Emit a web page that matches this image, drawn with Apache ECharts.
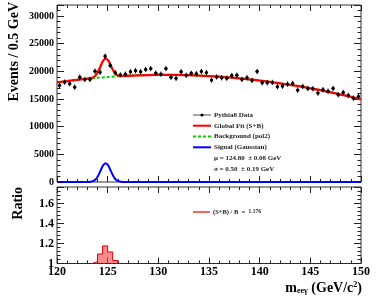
<!DOCTYPE html>
<html><head><meta charset="utf-8">
<script src="https://cdn.jsdelivr.net/npm/echarts@6/dist/echarts.min.js"></script>
<style>html,body{margin:0;padding:0;background:#fff}#c{width:381px;height:298px}</style>
</head><body><div id="c"></div>
<script>
// ---- data ----
const binCenters = [120.25,120.75,121.25,121.75,122.25,122.75,123.25,123.75,124.25,124.75,
  125.25,125.75,126.25,126.75,127.25,127.75,128.25,128.75,129.25,129.75,
  130.25,130.75,131.25,131.75,132.25,132.75,133.25,133.75,134.25,134.75,
  135.25,135.75,136.25,136.75,137.25,137.75,138.25,138.75,139.25,139.75,
  140.25,140.75,141.25,141.75,142.25,142.75,143.25,143.75,144.25,144.75,
  145.25,145.75,146.25,146.75,147.25,147.75,148.25,148.75,149.25,149.75];
const dataValues = [17450,18050,17760,17150,18950,18540,18540,20040,19850,22740,
  21060,19750,19350,19500,19920,20100,19920,20340,20500,19680,
  19500,20500,18950,18740,19920,19300,19650,19570,19980,19780,
  18420,18990,18840,18770,19260,19310,18540,18840,18360,19980,
  17940,17940,18000,17220,17330,17690,17820,16610,17270,16910,
  16860,16070,16680,16430,16910,15780,16190,15650,15160,15470];
const dataError = 480;

const bgX = [120,121,122,123,124,125,126,127,128,129,130,131,132,133,134,135,
  136,137,138,139,140,141,142,143,144,145,146,147,148,149,150];
const bgY = [18010,18250,18470,18660,18840,18980,19110,19210,19280,19340,19360,19370,19350,19310,19240,19150,
  19040,18900,18740,18550,18340,18110,17850,17570,17270,16940,16590,16210,15810,15390,14940];

const fitX = [120,121,122,122.8,123.05,123.3,123.55,123.8,124.05,124.3,124.55,124.8,125.05,125.3,125.55,125.8,126.05,126.3,126.55,126.8,
  127,128,129,130,131,132,133,134,135,136,137,138,139,140,141,142,143,144,145,146,147,148,149,150];
const fitY = [18010,18250,18470,18630,18680,18760,18910,19260,19950,20940,21920,22360,21990,21090,20160,19540,19260,19180,19180,19190,
  19210,19280,19340,19360,19370,19350,19310,19240,19150,19040,18900,18740,18550,18340,18110,17850,17570,17270,16940,16590,16210,15810,15390,14940];

const sigX = [120,122.8,123.05,123.3,123.55,123.8,124.05,124.3,124.55,124.8,125.05,125.3,125.55,125.8,126.05,126.3,126.55,126.8,150];
const sigY = [0,1,7,38,149,460,1102,2062,3000,3400,3000,2062,1102,460,149,38,7,1,0];

const ratioEdges = [123.5,124,124.5,125,125.5,126];
const ratioValues = [1.02,1.095,1.176,1.115,1.03];

const xTicks = {min:120, max:150, step:5};
const legendNames = ['Pythia8 Data','Global Fit (S+B)','Background (pol2)','Signal (Gaussian)'];
const fitText = ['\u03bc = 124.80  \u00b1 0.08 GeV','\u03c3 = 0.50  \u00b1 0.19 GeV'];
const ratioLabel = '(S+B) / B  =  ';
const ratioPeak = '1.176';

// ---- chart ----
const FONT = '"Liberation Serif","Times New Roman",serif';
const chart = echarts.init(document.getElementById('c'), null, {renderer:'canvas'});

function xAx(grid, pos, labels){
  return {type:'value', gridIndex:grid, position:pos, min:xTicks.min, max:xTicks.max, interval:xTicks.step,
    axisLine:{show:false, onZero:false},
    axisTick:{show:true, inside:true, length:6, lineStyle:{color:'#222', width:1}},
    minorTick:{show:true, splitNumber:5, length:3, lineStyle:{color:'#222', width:1}},
    splitLine:{show:false}, minorSplitLine:{show:false},
    axisLabel:{show:labels, margin:2, color:'#000', fontFamily:FONT, fontWeight:'bold', fontSize:12}};
}
function yAx(grid, pos, labels, min, max, interval, fs, fmt){
  return {type:'value', gridIndex:grid, position:pos, min:min, max:max, interval:interval,
    axisLine:{show:false, onZero:false},
    axisTick:{show:true, inside:true, length:7, lineStyle:{color:'#222', width:1}},
    minorTick:{show:true, splitNumber:5, length:3.5, lineStyle:{color:'#222', width:1}},
    splitLine:{show:false}, minorSplitLine:{show:false},
    axisLabel:{show:labels, margin:3, color:'#000', fontFamily:FONT, fontWeight:'bold', fontSize:fs, formatter:fmt,
      showMaxLabel:false}};
}

const errData = binCenters.map((x,i)=>[x, dataValues[i], dataError]);
const ratioData = [[ratioEdges[0],1]];
ratioValues.forEach((v,i)=>ratioData.push([ratioEdges[i], v]));
ratioData.push([ratioEdges[ratioEdges.length-1], 1]);

const txt = (x,y,t,fs,extra)=>Object.assign({type:'text', x:x, y:y, style:Object.assign({text:t, fill:'#222',
  font:'bold '+fs+'px '+FONT, textVerticalAlign:'middle'}, extra||{})});
const legRows = [115,125.7,136.5,147.3];
const graphics = [
  {type:'text', x:14, y:2, rotation:Math.PI/2, style:{text:'Events / 0.5 GeV', fill:'#000', font:'bold 14px '+FONT,
    textAlign:'right', textVerticalAlign:'middle'}},
  {type:'text', x:18, y:187, rotation:Math.PI/2, style:{text:'Ratio', fill:'#000', font:'bold 14px '+FONT,
    textAlign:'right', textVerticalAlign:'middle'}},
  {type:'text', x:362, y:288, style:{text:'{m|m}{s|ee\u03b3}{m| (GeV/c}{p|2}{m|)}', textAlign:'right', textVerticalAlign:'middle',
    rich:{m:{font:'bold 14px '+FONT, fill:'#000'}, s:{font:'bold 8px '+FONT, fill:'#000', verticalAlign:'bottom', padding:[6,0,0,0]},
          p:{font:'bold 8px '+FONT, fill:'#000', verticalAlign:'top', padding:[0,0,6,0]}}}},
  // legend samples
  {type:'line', shape:{x1:193,y1:legRows[0],x2:211,y2:legRows[0]}, style:{stroke:'#888', lineWidth:1.5}},
  {type:'circle', shape:{cx:202,cy:legRows[0],r:1.6}, style:{fill:'#000'}},
  {type:'line', shape:{x1:193,y1:legRows[1],x2:211,y2:legRows[1]}, style:{stroke:'#ff0000', lineWidth:2}},
  {type:'line', shape:{x1:193,y1:legRows[2],x2:211,y2:legRows[2]}, style:{stroke:'#00cc00', lineWidth:2, lineDash:[3,2]}},
  {type:'line', shape:{x1:193,y1:legRows[3],x2:211,y2:legRows[3]}, style:{stroke:'#0000ff', lineWidth:2}},
  txt(214, legRows[0], legendNames[0], 7), txt(214, legRows[1], legendNames[1], 7),
  txt(214, legRows[2], legendNames[2], 7), txt(214, legRows[3], legendNames[3], 7),
  txt(214, 158.3, fitText[0], 7), txt(214, 169, fitText[1], 7),
  {type:'line', shape:{x1:193,y1:212,x2:210,y2:212}, style:{stroke:'#ee3333', lineWidth:1.5}},
  {type:'text', x:213, y:212, style:{text:'{a|'+ratioLabel+'}{b|'+ratioPeak+'}', textVerticalAlign:'middle',
    rich:{a:{font:'bold 6.5px '+FONT, fill:'#222'}, b:{font:'bold 5.5px '+FONT, fill:'#222'}}}}
];

const option = {
  animation:false,
  backgroundColor:'#fff',
  grid:[
    {left:57, right:20, top:5, height:177, show:true, borderColor:'#333', borderWidth:1, backgroundColor:'transparent'},
    {left:57, right:20, top:187, height:76.5, show:true, borderColor:'#333', borderWidth:1, backgroundColor:'transparent'}
  ],
  xAxis:[xAx(0,'bottom',false), xAx(0,'top',false), xAx(1,'bottom',true), xAx(1,'top',false)],
  yAxis:[yAx(0,'left',true,0,32000,5000,10,v=>String(v)), yAx(0,'right',false,0,32000,5000,10),
         yAx(1,'left',true,1,1.765,0.2,12,v=>String(Math.round(v*10)/10)), yAx(1,'right',false,1,1.765,0.2,12)],
  series:[
    {type:'line', name:legendNames[2], xAxisIndex:0, yAxisIndex:0, data:bgX.map((x,i)=>[x,bgY[i]]), showSymbol:false,
     smooth:0.3, lineStyle:{color:'#00cc00', width:2, type:[3,2]}, z:2},
    {type:'line', name:legendNames[1], xAxisIndex:0, yAxisIndex:0, data:fitX.map((x,i)=>[x,fitY[i]]), showSymbol:false,
     smooth:0.3, lineStyle:{color:'#ff0000', width:2.3}, z:3},
    {type:'line', name:legendNames[3], xAxisIndex:0, yAxisIndex:0, data:sigX.map((x,i)=>[x,sigY[i]]), showSymbol:false,
     smooth:0.3, lineStyle:{color:'#0000ff', width:2}, z:4},
    {type:'custom', name:legendNames[0], xAxisIndex:0, yAxisIndex:0, data:errData, z:5,
     renderItem:function(params, api){
       const x=api.value(0), y=api.value(1), e=api.value(2);
       const t=api.coord([x,y+e]), b=api.coord([x,y-e]), c=api.coord([x,y]);
       const l=api.coord([x-0.15,y]), r=api.coord([x+0.15,y]);
       return {type:'group', children:[
         {type:'line', shape:{x1:t[0],y1:t[1],x2:b[0],y2:b[1]}, style:{stroke:'#000', lineWidth:1}},
         {type:'line', shape:{x1:l[0],y1:l[1],x2:r[0],y2:r[1]}, style:{stroke:'#000', lineWidth:1}},
         {type:'circle', shape:{cx:c[0],cy:c[1],r:1.7}, style:{fill:'#000'}}
       ]};
     }},
    {type:'line', xAxisIndex:2, yAxisIndex:2, data:ratioData, step:'end', showSymbol:false,
     lineStyle:{color:'#dd0000', width:1}, areaStyle:{color:'rgba(255,70,70,0.9)', origin:'start'}, z:2},
    {type:'line', xAxisIndex:2, yAxisIndex:2, data:[[xTicks.min,1],[xTicks.max,1]], showSymbol:false,
     lineStyle:{color:'#0000ff', width:1, type:[2,2]}, z:3}
  ],
  graphic:graphics
};
chart.setOption(option);
</script></body></html>
